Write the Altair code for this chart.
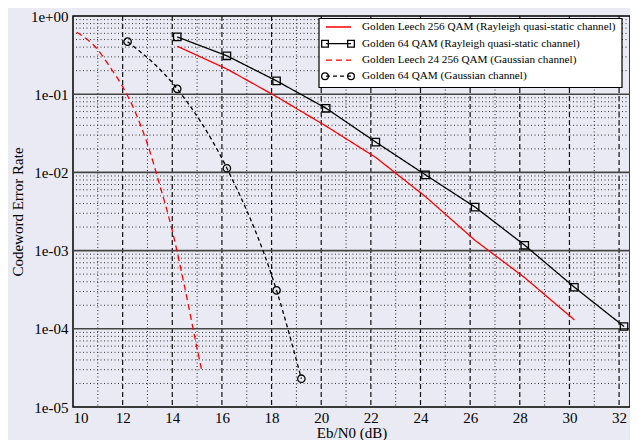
import altair as alt
import pandas as pd

# ---- data ----
leech_ray_x = [14.2, 16.2, 18.2, 20.2, 22.2, 24.2, 26.2, 28.2, 30.2]
leech_ray_y = [0.41, 0.21, 0.093, 0.039, 0.0155, 0.0049, 0.00135, 0.00045, 0.00013]

g64_ray_x = [14.2, 16.2, 18.2, 20.2, 22.2, 24.2, 26.2, 28.2, 30.2, 32.2]
g64_ray_y = [0.54, 0.31, 0.148, 0.066, 0.0244, 0.0093, 0.0036, 0.00117, 0.00034, 0.000107]

leech24_x = [10.15, 11.0, 11.5, 12.0, 12.5, 13.0, 13.5, 14.0, 14.5, 15.0, 15.2]
leech24_y = [0.62, 0.37, 0.22, 0.125, 0.06, 0.023, 0.0068, 0.0018, 0.00034, 0.000056, 0.000028]

g64_gauss_x = [12.2, 14.2, 16.2, 18.2, 19.2]
g64_gauss_y = [0.47, 0.117, 0.0113, 0.00031, 0.000023]

series_names = [
    "Golden Leech 256 QAM (Rayleigh quasi-static channel)",
    "Golden 64 QAM (Rayleigh quasi-static channel)",
    "Golden Leech 24 256 QAM (Gaussian channel)",
    "Golden 64 QAM (Gaussian channel)",
]

x_ticks = [10, 12, 14, 16, 18, 20, 22, 24, 26, 28, 30, 32]
x_minor = [11, 13, 15, 17, 19, 21, 23, 25, 27, 29, 31]
y_ticks = [1, 0.1, 0.01, 0.001, 0.0001, 0.00001]
y_major_grid = [0.1, 0.01, 0.001, 0.0001]
y_minor = [m * d for d in [0.1, 0.01, 0.001, 0.0001, 0.00001] for m in range(2, 10)]

# ---- styles ----
FONT = "Liberation Serif"
BG = "#eaeaf4"
styles = [
    dict(color="#ff0000", dash=[1, 0], shape=None, interp="linear"),
    dict(color="#000000", dash=[1, 0], shape="square", interp="linear"),
    dict(color="#ff0000", dash=[6, 4], shape=None, interp="monotone"),
    dict(color="#000000", dash=[4, 3], shape="circle", interp="monotone"),
]
xs = [leech_ray_x, g64_ray_x, leech24_x, g64_gauss_x]
ys = [leech_ray_y, g64_ray_y, leech24_y, g64_gauss_y]

W, H = 557, 391
xscale = alt.Scale(domain=[10, 32.44], nice=False, zero=False)
yscale = alt.Scale(type="log", domain=[1e-5, 1], nice=False)

x_axis = alt.Axis(values=x_ticks, format="d", grid=False, ticks=False, domain=False,
                  labelFont=FONT, labelFontSize=15, labelColor="black", labelPadding=3,
                  title="Eb/N0 (dB)", titleFont=FONT, titleFontSize=15,
                  titleFontWeight="normal", titleColor="black", titlePadding=0)
y_axis = alt.Axis(values=y_ticks, grid=False, ticks=False, domain=False,
                  labelExpr="datum.value >= 1 ? '1e+00' : '1e-0' + round(-log(datum.value)/LN10)",
                  labelFont=FONT, labelFontSize=15, labelColor="black", labelPadding=5,
                  title="Codeword Error Rate", titleFont=FONT, titleFontSize=15,
                  titleFontWeight="normal", titleColor="black", titlePadding=5)

layers = []

# grid lines
layers.append(alt.Chart(pd.DataFrame({"x": x_minor})).mark_rule(
    color="#222", strokeWidth=1, strokeDash=[1, 2.5]).encode(
    x=alt.X("x:Q", scale=xscale, axis=x_axis)))
layers.append(alt.Chart(pd.DataFrame({"x": x_ticks[1:]})).mark_rule(
    color="#111", strokeWidth=1.2, strokeDash=[5, 3]).encode(
    x=alt.X("x:Q", scale=xscale)))
layers.append(alt.Chart(pd.DataFrame({"y": y_minor})).mark_rule(
    color="#333", strokeWidth=1, strokeDash=[1, 2.5]).encode(
    y=alt.Y("y:Q", scale=yscale, axis=y_axis)))
layers.append(alt.Chart(pd.DataFrame({"y": y_major_grid})).mark_rule(
    color="#444", strokeWidth=1.6).encode(
    y=alt.Y("y:Q", scale=yscale)))

# data series
for name, sx, sy, st in zip(series_names, xs, ys, styles):
    df = pd.DataFrame({"x": sx, "y": sy, "series": name})
    base = alt.Chart(df).encode(x=alt.X("x:Q", scale=xscale), y=alt.Y("y:Q", scale=yscale))
    layers.append(base.mark_line(color=st["color"], strokeWidth=1.3,
                                 strokeDash=st["dash"], interpolate=st["interp"]))
    if st["shape"]:
        layers.append(base.mark_point(shape=st["shape"], filled=False, color=st["color"],
                                      size=55, strokeWidth=1.3, opacity=1))

# legend (decoration)
one = alt.Data(values=[{"a": 1}])
lx0, lx1, ly0, ly1 = 246, 549, 2.5, 71.5
layers.append(alt.Chart(one).mark_rect(fill="white", stroke="black", strokeWidth=1.2).encode(
    x=alt.value(lx0), x2=alt.value(lx1), y=alt.value(ly0), y2=alt.value(ly1)))
row_y = [11.0, 27.7, 44.2, 60.2]
for name, st, ry in zip(series_names, styles, row_y):
    layers.append(alt.Chart(one).mark_rule(color=st["color"], strokeWidth=1.3,
                                           strokeDash=st["dash"]).encode(
        x=alt.value(253), x2=alt.value(278), y=alt.value(ry)))
    if st["shape"]:
        for px in (252, 278):
            layers.append(alt.Chart(one).mark_point(shape=st["shape"], filled=False,
                                                    color=st["color"], size=45,
                                                    strokeWidth=1.3, opacity=1).encode(
                x=alt.value(px), y=alt.value(ry)))
    layers.append(alt.Chart(one).mark_text(text=name, align="left", baseline="middle",
                                           font=FONT, fontSize=11.2, color="black").encode(
        x=alt.value(289), y=alt.value(ry)))

chart = alt.layer(*layers).properties(
    width=W, height=H,
    autosize=alt.AutoSizeParams(type="none"),
    padding={"left": 65, "top": 8, "right": 0, "bottom": 33},
    background=BG,
).configure_view(stroke="black", strokeWidth=1.5, fill=BG)

chart.save("out.html", embed_options={"renderer": "svg", "actions": False})
